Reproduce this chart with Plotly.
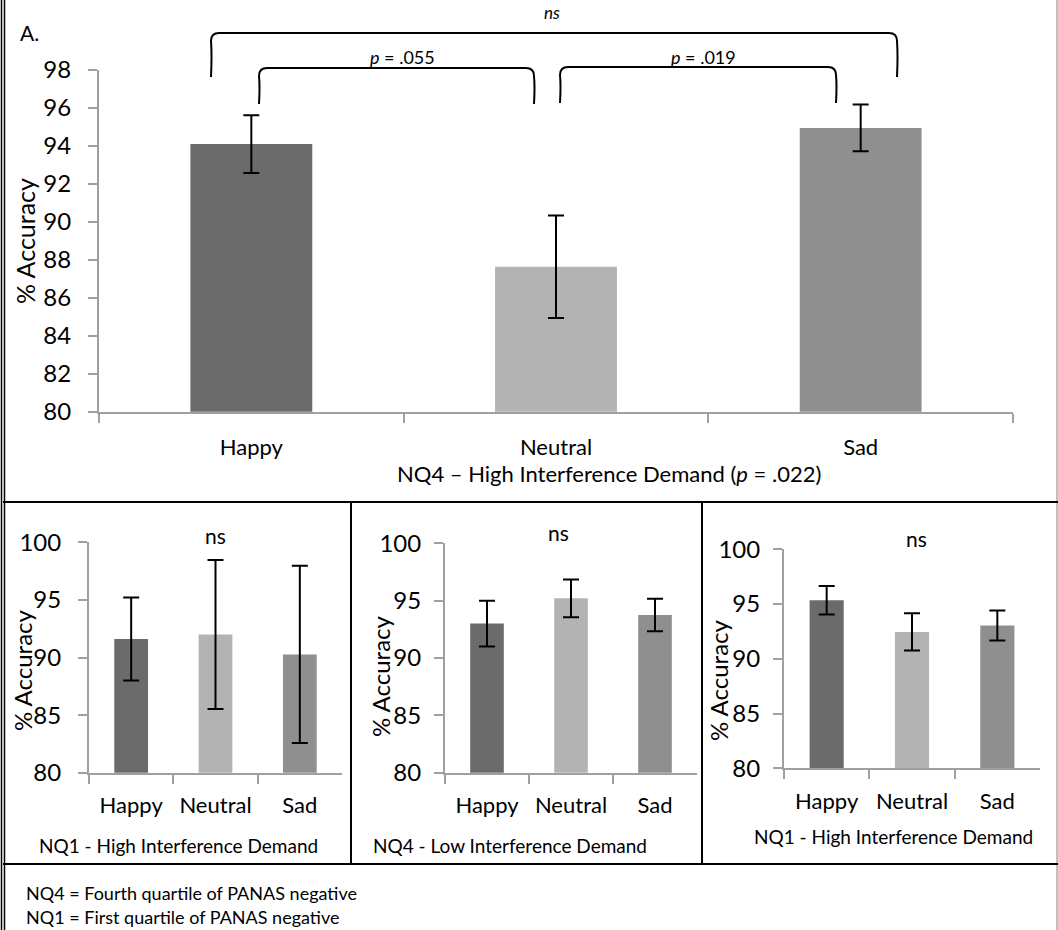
import plotly.graph_objects as go

W, H = 1058, 930

def px(x):
    return x / W

def py(y):
    return 1 - y / H

# ---------------- data ----------------
categories = ["Happy", "Neutral", "Sad"]
bar_colors = ["#6b6b6b", "#b3b3b3", "#8f8f8f"]

top_means = [94.1, 87.63, 94.95]
top_err = [1.52, 2.7, 1.23]

p1_means = [91.6, 92.0, 90.27]
p1_err = [3.6, 6.46, 7.7]

p2_means = [93.0, 95.2, 93.75]
p2_err = [2.0, 1.65, 1.42]

p3_means = [95.35, 92.45, 93.04]
p3_err = [1.3, 1.7, 1.37]

top_ticks = list(range(80, 99, 2))
bottom_ticks = [80, 85, 90, 95, 100]

FONT = "Lato"
AXIS_GRAY = "#a0a0a0"

fig = go.Figure()

panels = [
    ("x", "y", top_means, top_err),
    ("x2", "y2", p1_means, p1_err),
    ("x3", "y3", p2_means, p2_err),
    ("x4", "y4", p3_means, p3_err),
]
for xa, ya, means, errs in panels:
    fig.add_trace(go.Bar(
        x=categories, y=means, xaxis=xa, yaxis=ya,
        marker=dict(color=bar_colors, line=dict(width=0)),
        error_y=dict(type="data", array=errs, visible=True,
                     color="black", thickness=2, width=8),
        showlegend=False, hoverinfo="skip",
    ))

def xaxis_style(x0, x1, anchor, size, standoff):
    return dict(
        domain=[px(x0), px(x1)], anchor=anchor, type="category",
        showline=True, linecolor=AXIS_GRAY, linewidth=2,
        ticks="outside", ticklen=9, tickwidth=2, tickcolor=AXIS_GRAY,
        tickson="boundaries", showgrid=False, zeroline=False,
        tickangle=0,
        tickfont=dict(family=FONT, size=size, color="black"),
        ticklabelstandoff=standoff, fixedrange=True,
    )

def yaxis_style(y_bottom, y_top, anchor, rng, tickvals, standoff):
    return dict(
        domain=[py(y_bottom), py(y_top)], anchor=anchor, range=rng,
        tickvals=tickvals, ticktext=[str(t) for t in tickvals],
        showline=True, linecolor=AXIS_GRAY, linewidth=2,
        ticks="outside", ticklen=9, tickwidth=2, tickcolor=AXIS_GRAY,
        showgrid=False, zeroline=False,
        tickfont=dict(family=FONT, size=24, color="black"),
        ticklabelstandoff=standoff, fixedrange=True,
    )

fig.update_layout(
    width=W, height=H,
    margin=dict(l=0, r=0, t=0, b=0, pad=0, autoexpand=False),
    paper_bgcolor="white", plot_bgcolor="white",
    bargap=0.6,
    font=dict(family=FONT, color="black"),
    xaxis=xaxis_style(99, 1013, "y", 22, 15),
    yaxis=yaxis_style(411.7, 70, "x", [80, 98], top_ticks, 12),
    xaxis2=xaxis_style(89, 342, "y2", 22, 12),
    yaxis2=yaxis_style(772.7, 542.3, "x2", [80, 100], bottom_ticks, 12),
    xaxis3=xaxis_style(445, 697, "y3", 22, 12),
    yaxis3=yaxis_style(772.7, 543.3, "x3", [80, 100], bottom_ticks, 8),
    xaxis4=xaxis_style(784, 1040, "y4", 22, 12),
    yaxis4=yaxis_style(768.3, 549.3, "x4", [80, 100], bottom_ticks, 8),
)

# ---------------- frame lines ----------------
shapes = []

def line(x0, y0, x1, y1, color="black", width=2):
    shapes.append(dict(type="line", xref="paper", yref="paper",
                       x0=px(x0), y0=py(y0), x1=px(x1), y1=py(y1),
                       line=dict(color=color, width=width)))

line(1.5, 0, 1.5, 930, width=1.5)
line(4.5, 0, 4.5, 930, width=1.5)
line(1057, 0, 1057, 930, color="#808080", width=1)
line(3, 502, 1058, 502)
line(3, 864, 1058, 864)
line(351, 502, 351, 864)
line(702, 502, 702, 864)

# ---------------- brackets ----------------
def bracket(xl, xr, ytop, ybot, r=8):
    d = (f"M {px(xl)},{py(ybot)} "
         f"Q {px(xl + 1)},{py((ybot + ytop) / 2)} {px(xl)},{py(ytop + r)} "
         f"Q {px(xl)},{py(ytop)} {px(xl + r)},{py(ytop)} "
         f"L {px(xr - r)},{py(ytop)} "
         f"Q {px(xr)},{py(ytop)} {px(xr)},{py(ytop + r)} "
         f"Q {px(xr + 1)},{py((ybot + ytop) / 2)} {px(xr)},{py(ybot)}")
    shapes.append(dict(type="path", xref="paper", yref="paper", path=d,
                       line=dict(color="black", width=2)))

bracket(211, 897, 33, 77)
bracket(259, 534, 68, 104)
bracket(560, 836, 67, 103)

fig.update_layout(shapes=shapes)

# ---------------- text ----------------
ann = []

def text(x, y, s, size, angle=0, xanchor="center"):
    ann.append(dict(xref="paper", yref="paper", x=px(x), y=py(y), text=s,
                    showarrow=False, xanchor=xanchor, yanchor="middle",
                    textangle=angle,
                    font=dict(family=FONT, size=size, color="black")))

text(18, 32, "A.", 21, xanchor="left")
text(552, 12, "<i>ns</i>", 17)
text(402, 57, "<i>p</i> = .055", 18)
text(703, 57, "<i>p</i> = .019", 18)
text(25, 241, "% Accuracy", 25, angle=-90)
text(609, 474, "NQ4 – High Interference Demand (<i>p</i> = .022)", 22)

text(215, 535, "ns", 21)
text(558, 532, "ns", 21)
text(916, 538, "ns", 21)

text(22, 670, "% Accuracy", 24, angle=-90)
text(380, 676, "% Accuracy", 24, angle=-90)
text(718, 680, "% Accuracy", 24, angle=-90)

text(178, 845, "NQ1 - High Interference Demand", 19)
text(510, 845, "NQ4 - Low Interference Demand", 19)
text(893, 836, "NQ1 - High Interference Demand", 19)

text(24, 893, "NQ4 = Fourth quartile of PANAS negative", 18, xanchor="left")
text(24, 917, "NQ1 = First quartile of PANAS negative", 18, xanchor="left")

fig.update_layout(annotations=ann)

fig.write_html(
    "out.html",
    config={"displayModeBar": False},
    post_script="document.body.style.margin='0px';document.body.style.overflow='hidden';",
)
